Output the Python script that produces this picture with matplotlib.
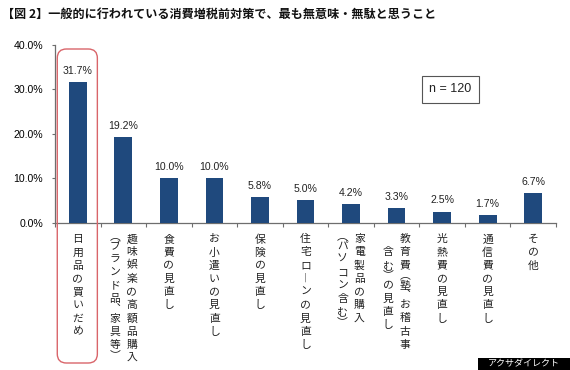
import matplotlib
matplotlib.use("Agg")
import matplotlib.pyplot as plt
from matplotlib.patches import FancyBboxPatch, Rectangle
import numpy as np

plt.rcParams['font.family'] = ['Noto Sans CJK JP', 'DejaVu Sans']

title = "【図 2】一般的に行われている消費増税前対策で、最も無意味・無駄と思うこと"
categories = [
    "日用品の買いだめ",
    "趣味娯楽の高額品購入\n（ブランド品、家具等）",
    "食費の見直し",
    "お小遣いの見直し",
    "保険の見直し",
    "住宅ローンの見直し",
    "家電製品の購入\n（パソコン含む）",
    "教育費（塾、お稽古事\n　含む）の見直し",
    "光熱費の見直し",
    "通信費の見直し",
    "その他",
]
values = [31.7, 19.2, 10.0, 10.0, 5.8, 5.0, 4.2, 3.3, 2.5, 1.7, 6.7]
yticks = [0, 10, 20, 30, 40]
note = "n = 120"
credit = "アクサダイレクト"

BAR = "#1f497d"
AXC = "#6e6e6e"
RED = "#d9656a"
NUMFONT = "Liberation Sans"

DPI = 100
W, H = 570, 370
fig = plt.figure(figsize=(W / DPI, H / DPI), dpi=DPI)
ax = fig.add_axes([55 / W, 1 - 222.7 / H, 501 / W, 177.7 / H])

x = np.arange(len(values))
ax.bar(x, values, width=0.39, color=BAR, zorder=3)
ax.set_xlim(-0.5, len(values) - 0.5)
ax.set_ylim(0, 40)
ax.set_yticks(yticks)
ax.set_yticklabels([f"{v:.1f}%" for v in yticks], fontfamily=NUMFONT, fontsize=7.6)
ax.set_xticks(np.arange(len(values) + 1) - 0.5)
ax.set_xticklabels([])
ax.tick_params(axis='y', length=2.5, width=0.8, color=AXC, pad=6)
ax.tick_params(axis='x', length=3, width=0.8, color=AXC, direction='out')
for s in ['top', 'right']:
    ax.spines[s].set_visible(False)
for s in ['left', 'bottom']:
    ax.spines[s].set_color(AXC)
    ax.spines[s].set_linewidth(0.9)

for xi, v in zip(x, values):
    ax.annotate(f"{v:.1f}%", (xi, v), xytext=(0, 4.5), textcoords='offset points',
                ha='center', va='bottom', fontsize=7.6, fontfamily=NUMFONT, color='#222222')

# vertical category labels
vmap = {"（": "︵", "）": "︶", "、": "︑", "ー": "︱", "(": "︵", ")": "︶"}
half = {"︵", "︶", "︑"}
px = 72.0 / DPI
step = 13.2
top0 = 10.0
col_dx = 8.5
trans = ax.get_xaxis_transform()
for i, lab in enumerate(categories):
    cols = lab.split("\n")
    n = len(cols)
    for c, col in enumerate(cols):
        if n == 1:
            dx = 0.0
        else:
            dx = col_dx if c == 0 else -col_dx
        ycur = top0
        for ch in col:
            ch = vmap.get(ch, ch)
            adv = step * (0.5 if ch in half else 1.0)
            if ch != "　":
                ax.annotate(ch, (i, 0), xycoords=trans,
                            xytext=(dx * px, -(ycur + adv / 2) * px), textcoords='offset points',
                            ha='center', va='center', fontsize=7.8, color='#222222',
                            annotation_clip=False)
            ycur += adv

# red highlight box around first category
fig.canvas.draw()
inv = fig.transFigure.inverted()
xl = inv.transform(ax.transData.transform((-0.45, 0)))[0]
xr = inv.transform(ax.transData.transform((0.43, 0)))[0]
ytop = 1 - 49 / H
ybot = 1 - 363 / H
box = FancyBboxPatch((xl, ybot), xr - xl, ytop - ybot,
                     boxstyle="round,pad=0,rounding_size=0.016",
                     mutation_aspect=W / H,
                     transform=fig.transFigure, fill=False, edgecolor=RED, linewidth=1.0,
                     zorder=5)
fig.patches.append(box)

# n = 120 box
ax.text(0.789, 0.75, note, transform=ax.transAxes, ha='center', va='center',
        fontsize=9, fontfamily=NUMFONT, color='#222222',
        bbox=dict(boxstyle='square,pad=0.6', facecolor='white', edgecolor='#555555', linewidth=0.8))

# title
fig.text(2 / W, 1 - 14 / H, title, ha='left', va='center', fontsize=8.7, fontweight='bold',
         color='#111111')

# credit
fig.patches.append(Rectangle((478 / W, 0), 1 - 478 / W, 12 / H, transform=fig.transFigure,
                             facecolor='black', edgecolor='none'))
fig.text(524 / W, 6 / H, credit, ha='center', va='center', fontsize=6.5, color='white')

fig.savefig("out.png", dpi=DPI)
